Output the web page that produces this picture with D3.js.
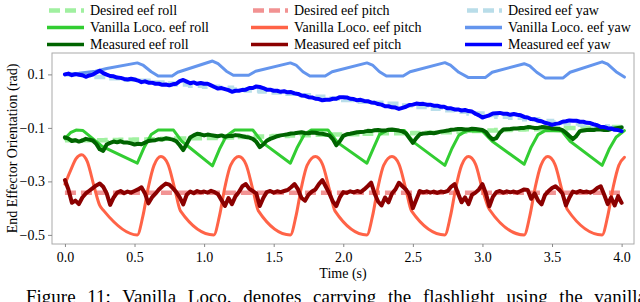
<!DOCTYPE html>
<html><head><meta charset="utf-8">
<script src="https://cdn.jsdelivr.net/npm/d3@7"></script>
<style>
body{margin:0;background:#fff;}
svg{display:block;}
svg text{font-family:"Liberation Serif","Times New Roman",serif;}
</style></head>
<body>
<svg id="chart" width="640" height="302" font-family="Liberation Serif, Times New Roman, serif"></svg>
<script>
// ---------- DATA ----------
const xTicks = [0,0.5,1,1.5,2,2.5,3,3.5,4];
const yTicks = [0.1,-0.1,-0.3,-0.5];

// measured series, one sample every 0.025 s from t = 0 to 4
const measStep = 0.025;
const measYaw = [
0.100,0.103,0.097,0.101,0.099,0.097,0.091,0.096,0.099,0.107,0.114,0.105,0.099,0.094,0.093,0.088,0.087,0.083,0.081,0.084,
0.081,0.077,0.071,0.074,0.069,0.069,0.065,0.065,0.061,0.062,0.059,0.063,0.065,0.075,0.079,0.073,0.067,0.070,0.065,0.068,
0.065,0.065,0.059,0.053,0.047,0.049,0.045,0.041,0.035,0.039,0.039,0.042,0.043,0.049,0.049,0.055,0.053,0.049,0.043,0.043,
0.039,0.039,0.035,0.037,0.033,0.034,0.029,0.027,0.021,0.020,0.015,0.014,0.009,0.008,0.003,0.005,0.005,0.009,0.009,0.015,
0.015,0.014,0.009,0.008,0.003,0.005,0.001,0.000,-0.005,-0.006,-0.011,-0.013,-0.019,-0.019,-0.023,-0.024,-0.029,-0.025,-0.021,-0.014,
-0.013,-0.009,-0.011,-0.010,-0.013,-0.013,-0.017,-0.017,-0.021,-0.021,-0.027,-0.027,-0.031,-0.031,-0.035,-0.033,-0.037,-0.039,-0.047,-0.053,
-0.061,-0.057,-0.053,-0.046,-0.045,-0.044,-0.047,-0.047,-0.051,-0.048,-0.051,-0.053,-0.059,-0.061,-0.067,-0.068,-0.073,-0.075,-0.081,-0.084,
-0.089,-0.085,-0.083,-0.077,-0.075,-0.072,-0.073,-0.073,-0.077,-0.077,-0.081,-0.082,-0.087,-0.090,-0.097,-0.097,-0.101,-0.102,-0.107,-0.108,-0.112];
const measRoll = [
-0.135,-0.140,-0.149,-0.146,-0.151,-0.147,-0.141,-0.144,-0.147,-0.160,-0.180,-0.186,-0.162,-0.156,-0.151,-0.154,-0.150,-0.155,-0.155,-0.158,
-0.162,-0.159,-0.161,-0.155,-0.149,-0.147,-0.146,-0.142,-0.143,-0.139,-0.141,-0.144,-0.150,-0.165,-0.183,-0.160,-0.136,-0.128,-0.122,-0.124,
-0.128,-0.125,-0.127,-0.129,-0.131,-0.128,-0.133,-0.130,-0.130,-0.127,-0.128,-0.131,-0.134,-0.136,-0.141,-0.152,-0.172,-0.162,-0.148,-0.141,
-0.136,-0.131,-0.128,-0.126,-0.124,-0.121,-0.120,-0.118,-0.116,-0.119,-0.120,-0.117,-0.118,-0.121,-0.122,-0.125,-0.128,-0.142,-0.165,-0.150,
-0.130,-0.124,-0.122,-0.119,-0.116,-0.115,-0.114,-0.111,-0.112,-0.109,-0.108,-0.110,-0.110,-0.107,-0.106,-0.108,-0.110,-0.113,-0.120,-0.138,
-0.156,-0.138,-0.124,-0.121,-0.120,-0.118,-0.120,-0.117,-0.114,-0.112,-0.110,-0.107,-0.106,-0.104,-0.104,-0.106,-0.106,-0.103,-0.104,-0.106,
-0.108,-0.115,-0.132,-0.143,-0.138,-0.118,-0.106,-0.105,-0.104,-0.102,-0.102,-0.100,-0.100,-0.097,-0.098,-0.100,-0.100,-0.097,-0.098,-0.099,
-0.102,-0.103,-0.104,-0.108,-0.118,-0.130,-0.142,-0.130,-0.112,-0.110,-0.108,-0.107,-0.108,-0.105,-0.106,-0.108,-0.108,-0.104,-0.102,-0.100,-0.098];
const measPitch = [
-0.295,-0.330,-0.380,-0.372,-0.385,-0.360,-0.345,-0.335,-0.325,-0.315,-0.308,-0.320,-0.345,-0.388,-0.360,-0.342,-0.336,-0.344,-0.338,-0.342,
-0.336,-0.330,-0.322,-0.345,-0.382,-0.360,-0.346,-0.330,-0.318,-0.308,-0.312,-0.325,-0.340,-0.360,-0.386,-0.350,-0.338,-0.344,-0.336,-0.341,
-0.338,-0.342,-0.335,-0.340,-0.348,-0.370,-0.392,-0.362,-0.385,-0.356,-0.340,-0.318,-0.310,-0.328,-0.336,-0.345,-0.392,-0.362,-0.340,-0.336,
-0.342,-0.337,-0.340,-0.336,-0.332,-0.322,-0.310,-0.330,-0.362,-0.372,-0.350,-0.338,-0.330,-0.310,-0.295,-0.320,-0.345,-0.375,-0.392,-0.360,
-0.340,-0.343,-0.337,-0.341,-0.336,-0.340,-0.330,-0.318,-0.305,-0.345,-0.375,-0.390,-0.360,-0.378,-0.345,-0.330,-0.305,-0.318,-0.330,-0.350,
-0.400,-0.368,-0.336,-0.341,-0.337,-0.342,-0.338,-0.343,-0.338,-0.340,-0.336,-0.320,-0.310,-0.345,-0.378,-0.360,-0.385,-0.350,-0.342,-0.330,
-0.310,-0.345,-0.393,-0.358,-0.340,-0.336,-0.342,-0.337,-0.341,-0.338,-0.342,-0.336,-0.330,-0.332,-0.365,-0.345,-0.372,-0.386,-0.350,-0.336,
-0.325,-0.318,-0.330,-0.345,-0.390,-0.360,-0.338,-0.342,-0.336,-0.340,-0.338,-0.342,-0.336,-0.325,-0.318,-0.350,-0.385,-0.360,-0.390,-0.355,-0.380];

// desired series (stepwise), every 0.1 s
const desT = [0.0,0.1,0.2,0.3,0.4,0.5,0.6,0.7,0.8,0.9,1.0,1.1,1.2,1.3,1.4,1.5,1.6,1.7,1.8,1.9,2.0,
2.1,2.2,2.3,2.4,2.5,2.6,2.7,2.8,2.9,3.0,3.1,3.2,3.3,3.4,3.5,3.6,3.7,3.8,3.9,4.0];
const desYaw = [0.100,0.098,0.090,0.086,0.080,0.076,0.070,0.066,0.062,0.058,0.054,0.050,0.044,0.040,0.036,0.032,0.028,0.022,0.016,0.010,0.004,
-0.002,-0.006,-0.010,-0.016,-0.022,-0.028,-0.034,-0.040,-0.046,-0.052,-0.058,-0.062,-0.068,-0.074,-0.080,-0.084,-0.088,-0.094,-0.100,-0.106];
const desRoll = [-0.146,-0.146,-0.146,-0.145,-0.144,-0.143,-0.142,-0.141,-0.140,-0.139,-0.138,-0.136,-0.134,-0.133,-0.132,-0.130,-0.128,-0.127,-0.126,-0.125,-0.124,
-0.122,-0.120,-0.120,-0.120,-0.119,-0.118,-0.116,-0.114,-0.112,-0.110,-0.108,-0.106,-0.105,-0.104,-0.102,-0.100,-0.099,-0.098,-0.097,-0.096];
const desPitch = [-0.342,-0.342,-0.342,-0.342,-0.342,-0.342,-0.342,-0.342,-0.342,-0.342,-0.342,-0.342,-0.342,-0.342,-0.342,-0.342,-0.342,-0.342,-0.342,-0.342,-0.342,
-0.342,-0.342,-0.342,-0.342,-0.342,-0.342,-0.342,-0.342,-0.342,-0.342,-0.342,-0.342,-0.342,-0.342,-0.342,-0.342,-0.342,-0.342,-0.342,-0.342];

// vanilla locomotion series (key points)
const vanPitchT = [0.00,0.04,0.08,0.12,0.16,0.21,0.25,0.28,0.52,0.56,0.60,0.64,0.69,0.74,0.79,0.83,1.07,1.11,1.15,1.19,1.25,1.30,1.35,1.39,
1.62,1.66,1.70,1.74,1.80,1.85,1.90,1.94,2.17,2.21,2.25,2.29,2.35,2.40,2.45,2.49,2.73,2.77,2.81,2.85,2.90,2.95,3.00,3.05,
3.30,3.34,3.38,3.42,3.47,3.52,3.57,3.61,3.86,3.90,3.94,3.98,4.02];
const vanPitch = [-0.310,-0.260,-0.215,-0.200,-0.225,-0.320,-0.390,-0.410,-0.500,-0.430,-0.320,-0.240,-0.207,-0.235,-0.330,-0.410,-0.500,-0.430,-0.320,-0.240,-0.207,-0.235,-0.330,-0.410,
-0.500,-0.430,-0.320,-0.240,-0.207,-0.235,-0.330,-0.410,-0.500,-0.430,-0.320,-0.240,-0.207,-0.235,-0.330,-0.410,-0.500,-0.430,-0.320,-0.240,-0.207,-0.235,-0.330,-0.405,
-0.500,-0.430,-0.320,-0.240,-0.207,-0.235,-0.330,-0.405,-0.500,-0.430,-0.320,-0.240,-0.210];
const vanRollT = [0.00,0.04,0.08,0.13,0.20,0.27,0.52,0.57,0.62,0.67,0.78,0.84,1.06,1.11,1.16,1.22,1.35,1.42,1.62,1.67,1.72,1.77,1.89,1.96,
2.17,2.22,2.26,2.31,2.44,2.51,2.73,2.78,2.83,2.88,3.00,3.07,3.30,3.35,3.40,3.45,3.57,3.63,3.86,3.91,3.96,4.02];
const vanRoll = [-0.140,-0.118,-0.108,-0.110,-0.140,-0.170,-0.232,-0.172,-0.125,-0.108,-0.108,-0.150,-0.242,-0.180,-0.130,-0.108,-0.108,-0.155,-0.232,-0.172,-0.125,-0.108,-0.108,-0.155,
-0.232,-0.172,-0.125,-0.110,-0.110,-0.155,-0.240,-0.178,-0.128,-0.112,-0.112,-0.150,-0.236,-0.172,-0.125,-0.110,-0.112,-0.150,-0.240,-0.180,-0.135,-0.110];
const vanYawT = [0.00,0.10,0.22,0.30,0.52,0.56,0.62,0.67,0.77,0.81,1.06,1.10,1.16,1.21,1.32,1.37,1.62,1.66,1.71,1.76,1.87,1.92,
2.17,2.21,2.26,2.31,2.43,2.48,2.73,2.77,2.83,2.90,3.02,3.07,3.30,3.34,3.39,3.45,3.58,3.63,3.86,3.90,3.96,4.02];
const vanYaw = [0.100,0.104,0.112,0.122,0.143,0.135,0.110,0.094,0.094,0.108,0.150,0.140,0.112,0.097,0.097,0.112,0.143,0.135,0.110,0.094,0.094,0.110,
0.143,0.135,0.110,0.094,0.094,0.110,0.144,0.135,0.108,0.088,0.088,0.108,0.140,0.132,0.108,0.087,0.087,0.108,0.147,0.138,0.110,0.090];

const legendLabels = ["Desired eef roll","Desired eef pitch","Desired eef yaw",
"Vanilla Loco. eef roll","Vanilla Loco. eef pitch","Vanilla Loco. eef yaw",
"Measured eef roll","Measured eef pitch","Measured eef yaw"];

// ---------- STYLE ----------
const FONT = "Liberation Serif, Times New Roman, serif";
const C = {
  desRoll:"#90EE90", desPitch:"#F08080", desYaw:"#ADD8E6",
  vanRoll:"#32CD32", vanPitch:"#FF6347", vanYaw:"#6495ED",
  measRoll:"#006400", measPitch:"#8B0000", measYaw:"#0000FF"
};
const legendColors = [C.desRoll,C.desPitch,C.desYaw,C.vanRoll,C.vanPitch,C.vanYaw,C.measRoll,C.measPitch,C.measYaw];

const svg = d3.select("#chart");
const L=52, R=634, T=53, B=244;
const x = d3.scaleLinear().domain([-0.093,4.089]).range([L,R]);
const y = d3.scaleLinear().domain([-0.534,0.180]).range([B,T]);

const zip = (ts,vs)=>ts.map((t,i)=>[t,vs[i]]);
const zipStep = (vs)=>vs.map((v,i)=>[i*measStep,v]);
const lineStep = d3.line().x(d=>x(d[0])).y(d=>y(d[1])).curve(d3.curveStepAfter);
const lineLin = d3.line().x(d=>x(d[0])).y(d=>y(d[1]));
const lineSmooth = d3.line().x(d=>x(d[0])).y(d=>y(d[1])).curve(d3.curveMonotoneX);

const g = svg.append("g");
// desired
[[desRoll,C.desRoll],[desPitch,C.desPitch],[desYaw,C.desYaw]].forEach(([v,c])=>{
  g.append("path").attr("d",lineStep(zip(desT,v))).attr("fill","none").attr("stroke",c)
   .attr("stroke-width",4.5).attr("stroke-dasharray","11,5").attr("opacity",0.85);
});
// vanilla
g.append("path").attr("d",lineLin(zip(vanRollT,vanRoll))).attr("fill","none").attr("stroke",C.vanRoll)
  .attr("stroke-width",3).attr("stroke-linejoin","round").attr("stroke-linecap","round");
g.append("path").attr("d",lineSmooth(zip(vanPitchT,vanPitch))).attr("fill","none").attr("stroke",C.vanPitch)
  .attr("stroke-width",3).attr("stroke-linejoin","round").attr("stroke-linecap","round");
g.append("path").attr("d",lineLin(zip(vanYawT,vanYaw))).attr("fill","none").attr("stroke",C.vanYaw)
  .attr("stroke-width",3).attr("stroke-linejoin","round").attr("stroke-linecap","round");
// measured
[[measRoll,C.measRoll],[measPitch,C.measPitch],[measYaw,C.measYaw]].forEach(([v,c])=>{
  g.append("path").attr("d",lineLin(zipStep(v))).attr("fill","none").attr("stroke",c)
   .attr("stroke-width",4).attr("stroke-linejoin","round").attr("stroke-linecap","round");
});

// frame
svg.append("rect").attr("x",L).attr("y",T).attr("width",R-L).attr("height",B-T)
  .attr("fill","none").attr("stroke","#aaaaaa").attr("stroke-width",1);

// axes
const fmt = d3.format(".1f");
const xAxis = svg.append("g").attr("transform",`translate(0,${B})`)
  .call(d3.axisBottom(x).tickValues(xTicks).tickFormat(fmt).tickSize(3).tickPadding(5));
const yAxis = svg.append("g").attr("transform",`translate(${L},0)`)
  .call(d3.axisLeft(y).tickValues(yTicks).tickFormat(fmt).tickSize(4).tickPadding(3));
[xAxis,yAxis].forEach(a=>{
  a.attr("font-family",FONT).attr("font-size",14);
  a.select(".domain").remove();
  a.selectAll(".tick line").attr("stroke","#888");
  a.selectAll("text").attr("font-family",FONT).attr("font-size",14).attr("fill","#000");
});

svg.append("text").attr("x",(L+R)/2).attr("y",278).attr("text-anchor","middle")
  .attr("font-family",FONT).attr("font-size",14).text("Time (s)");
svg.append("text").attr("transform",`translate(17,${(T+B)/2}) rotate(-90)`).attr("text-anchor","middle")
  .attr("font-family",FONT).attr("font-size",14).text("End Effector Orientation (rad)");

// legend
const colX = [47,251,465];
const rowY = [15,32,49];
legendLabels.forEach((lab,i)=>{
  const col=i%3, row=Math.floor(i/3);
  const lg = svg.append("g").attr("transform",`translate(${colX[col]},${rowY[row]-4.5})`);
  const ln = lg.append("line").attr("x1",0).attr("x2",37).attr("y1",0).attr("y2",0)
    .attr("stroke",legendColors[i]).attr("stroke-width",row===0?4.5:3.5);
  if(row===0) ln.attr("stroke-dasharray","11,5").attr("opacity",0.85).attr("x1",2);
  lg.append("text").attr("x",43).attr("y",4.5).attr("font-family",FONT).attr("font-size",14).text(lab);
});

// caption (partially visible at the bottom edge), justified with word spacing
const cap = svg.append("text").attr("x",26).attr("y",303).attr("font-family",FONT).attr("font-size",19)
  .text("Figure 11: Vanilla Loco. denotes carrying the flashlight using the vanilla");
const natural = cap.node().getComputedTextLength();
const nSpaces = cap.text().split(" ").length - 1;
cap.attr("word-spacing", Math.max(0,(620 - natural)/nSpaces));
</script>
</body></html>
